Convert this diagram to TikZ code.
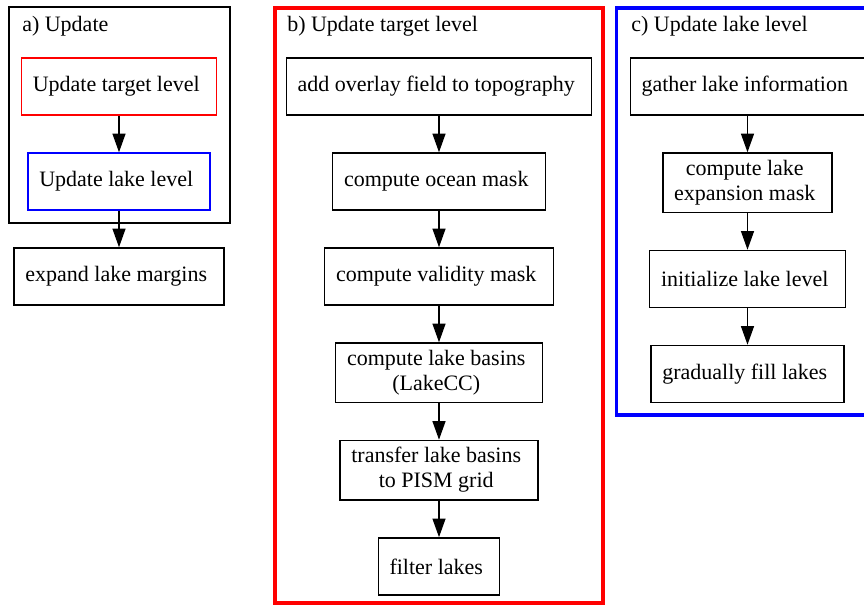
\documentclass[tikz,border=0pt]{standalone}
\usepackage{fontspec}
\setmainfont{Liberation Serif}
\usepackage{xcolor}
\usetikzlibrary{arrows.meta}
\usetikzlibrary{matrix}
\colorlet{tgtcolor}{red}
\colorlet{lakecolor}{blue}
\newcommand\stepfont{\fontsize{16.5}{18.75}\selectfont}
\newcommand\twoline[2]{\begin{tabular}{@{}c@{}}#1\\#2\end{tabular}}
\tikzstyle{proc}=[draw,line width=1pt,rectangle,align=center,minimum height=42.75pt,inner xsep=8.5pt,inner ysep=3.55pt,font=\stepfont]
\tikzstyle{flowhead}=[>/.tip={Triangle[length=14pt,width=9.75pt]}]
\tikzstyle{flow}=[line width=1pt,flowhead,->]
\tikzstyle{cluster}=[line width=1pt]
\tikzstyle{title}=[anchor=base west,inner sep=0pt,font=\stepfont]

\begin{document}
\begin{tikzpicture}[x=0.75pt,y=-0.75pt]
	\useasboundingbox (0,0) rectangle (864,606);
	\draw[cluster] (9,7) rectangle (230,223);
	\draw[cluster,tgtcolor,line width=2.6pt] (275,8) rectangle (603,603);
	\draw[cluster,lakecolor,line width=2.6pt] (616.5,8) rectangle (880,415);
	\node[title] (ta) at (22,32) {a) Update};
	\node[title] (tb) at (287,32) {b) Update target level};
	\node[title] (tc) at (631,32) {c) Update lake level};
	\matrix [matrix of nodes,nodes={proc},row sep=27.5pt,inner sep=0pt,anchor=north] (up) at (119,57) {
		|[draw=tgtcolor]| Update target level \\
		|[draw=lakecolor]| Update lake level \\
		expand lake margins \\
	};
	\matrix [matrix of nodes,nodes={proc},row sep=27.5pt,inner sep=0pt,anchor=north] (tgt) at (439,57) {
		add overlay field to topography \\
		compute ocean mask \\
		compute validity mask \\
		\twoline{compute lake basins}{(LakeCC)} \\
		\twoline{transfer lake basins}{to PISM grid} \\
		filter lakes \\
	};
	\matrix [matrix of nodes,nodes={proc},row sep=27.5pt,inner sep=0pt,anchor=north] (lake) at (747.5,57) {
		gather lake information \\
		\twoline{compute lake}{expansion mask} \\
		initialize lake level \\
		gradually fill lakes \\
	};
	\draw[flow] (up-1-1) -- (up-2-1);
	\draw[flow] (up-2-1) -- (up-3-1);
	\draw[flow] (tgt-1-1) -- (tgt-2-1);
	\draw[flow] (tgt-2-1) -- (tgt-3-1);
	\draw[flow] (tgt-3-1) -- (tgt-4-1);
	\draw[flow] (tgt-4-1) -- (tgt-5-1);
	\draw[flow] (tgt-5-1) -- (tgt-6-1);
	\draw[flow] (lake-1-1) -- (lake-2-1);
	\draw[flow] (lake-2-1) -- (lake-3-1);
	\draw[flow] (lake-3-1) -- (lake-4-1);
\end{tikzpicture}
\end{document}
